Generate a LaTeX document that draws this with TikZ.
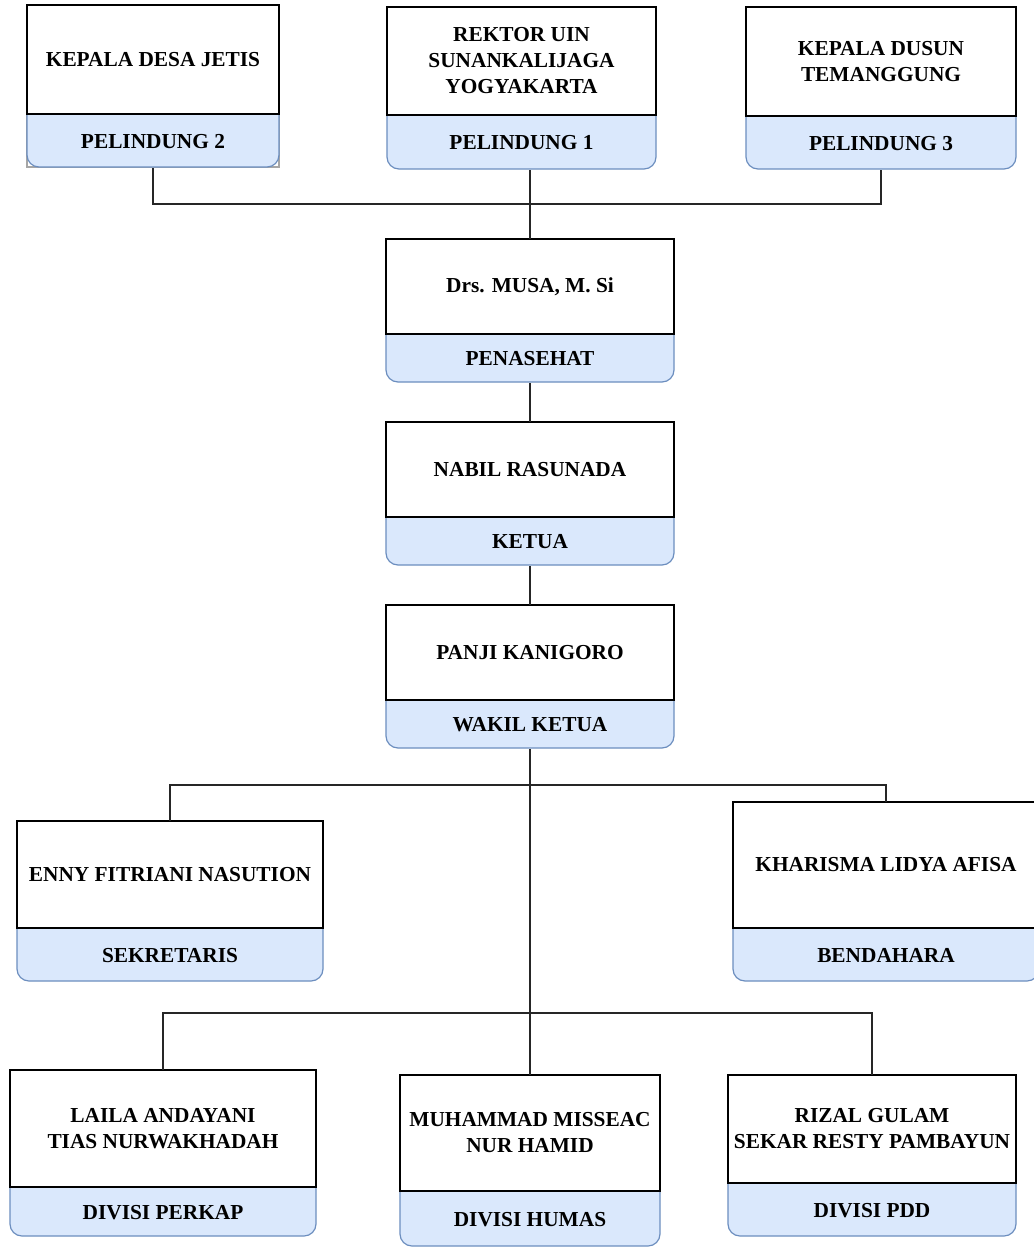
\documentclass[tikz,border=0pt]{standalone}
\usepackage{fontspec}
\setmainfont{Liberation Serif}
\definecolor{lblfill}{HTML}{DAE8FC}
\definecolor{lbledge}{HTML}{6C8EBF}
\tikzset{
  topbox/.style={draw=black, fill=white, line width=1.1pt, inner sep=0pt, outer sep=0pt, align=center,
    font=\fontsize{16}{19.5}\selectfont\bfseries},
  lbltext/.style={draw=none, inner sep=0pt, outer sep=0pt, align=center,
    font=\fontsize{16}{19.5}\selectfont\bfseries},
  lblshape/.style={fill=lblfill, draw=lbledge, line width=0.9pt, rounded corners=9pt},
  conn/.style={draw=black!85, line width=1.1pt},
}
\newcommand{\orgbox}[8]{%
  \filldraw[lblshape] (#2,#5) -- (#2,#6) -- (#3,#6) -- (#3,#5);
  \node[topbox, minimum width={(#3-#2)*0.75pt}, minimum height={(#5-#4)*0.75pt}] (#1T)
     at ({(#2+#3)/2},{(#4+#5)/2}) {#7};
  \node[lbltext, minimum width={(#3-#2)*0.75pt}, minimum height={(#6-#5)*0.75pt}] (#1L)
     at ({(#2+#3)/2},{(#5+#6)/2+1}) {#8};
}
\begin{document}
\begin{tikzpicture}[x=0.75pt,y=-0.75pt]
\useasboundingbox (0,0) rectangle (1034,1247);
\fill[white] (0,0) rectangle (1034,1247);

% top row
\draw[gray!70, line width=0.8pt] (27,5) rectangle (279,167);
\orgbox{pa}{27}{279}{5}{114}{167}{KEPALA DESA JETIS}{PELINDUNG 2}
\orgbox{pb}{387}{656}{7}{115}{169}{REKTOR UIN\\SUNANKALIJAGA\\YOGYAKARTA}{PELINDUNG 1}
\orgbox{pc}{746}{1016}{7}{116}{169}{KEPALA DUSUN\\TEMANGGUNG}{PELINDUNG 3}

% middle column
\orgbox{pen}{386}{674}{239}{334}{382}{Drs. MUSA, M. Si}{PENASEHAT}
\orgbox{ket}{386}{674}{422}{517}{565}{NABIL RASUNADA}{KETUA}
\orgbox{wak}{386}{674}{605}{700}{748}{PANJI KANIGORO}{WAKIL KETUA}

% secretary / treasurer
\orgbox{sek}{17}{323}{821}{928}{981}{ENNY FITRIANI NASUTION}{SEKRETARIS}
\orgbox{ben}{733}{1039}{802}{928}{981}{KHARISMA LIDYA AFISA}{BENDAHARA}

% divisions
\orgbox{per}{10}{316}{1070}{1187}{1236}{LAILA ANDAYANI\\TIAS NURWAKHADAH}{DIVISI PERKAP}
\orgbox{hum}{400}{660}{1075}{1191}{1246}{MUHAMMAD MISSEAC\\NUR HAMID}{DIVISI HUMAS}
\orgbox{pdd}{728}{1016}{1075}{1183}{1236}{RIZAL GULAM\\SEKAR RESTY PAMBAYUN}{DIVISI PDD}

% junction coordinates
\coordinate (j1) at (530,204);
\coordinate (j2) at (530,785);
\coordinate (j3) at (530,1013);

% connectors
\draw[conn] (paL.south) |- (j1);
\draw[conn] (pcL.south) |- (j1);
\draw[conn] (penT.north) -- (penT.north |- pbL.south);
\draw[conn] (penL.south) -- (ketT.north);
\draw[conn] (ketL.south) -- (wakT.north);
\draw[conn] (wakL.south) -- (humT.north);
\draw[conn] (sekT.north) |- (j2);
\draw[conn] (benT.north) |- (j2);
\draw[conn] (perT.north) |- (j3);
\draw[conn] (pddT.north) |- (j3);
\end{tikzpicture}
\end{document}
